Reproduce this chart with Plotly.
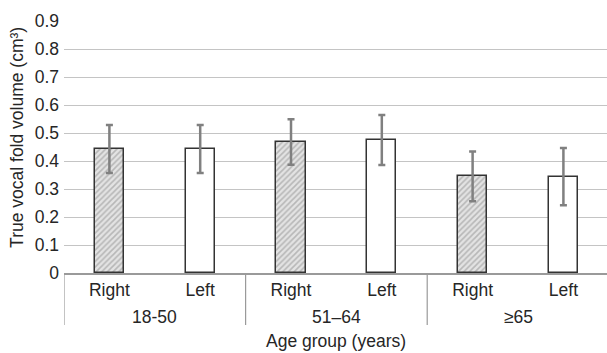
import plotly.graph_objects as go

# Age groups and sides
groups = ["18-50", "51\u201364", "\u226565"]
sides = ["Right", "Left"]

# Mean true vocal fold volume (cm³) and standard deviation, ordered group by group (Right, Left)
right_vals = [0.443, 0.468, 0.345]
left_vals = [0.443, 0.475, 0.344]
right_err = [0.086, 0.081, 0.089]
left_err = [0.086, 0.089, 0.102]

y_ticks = [0, 0.1, 0.2, 0.3, 0.4, 0.5, 0.6, 0.7, 0.8, 0.9]

text_color = "#262626"
font_family = "Liberation Sans, Arial, sans-serif"
fs = 17.5

x_right = [2 * i for i in range(len(groups))]
x_left = [2 * i + 1 for i in range(len(groups))]

fig = go.Figure()
fig.add_trace(go.Bar(
    x=x_right, y=right_vals, width=0.32,
    marker=dict(
        color="#e2e2e2",
        line=dict(color="#333333", width=1.5),
        pattern=dict(shape="/", fgcolor="#8c8c8c", bgcolor="#e3e3e3", size=4, solidity=0.4),
    ),
    error_y=dict(type="data", array=right_err, color="#808080", thickness=2.5, width=3.5),
    showlegend=False,
))
fig.add_trace(go.Bar(
    x=x_left, y=left_vals, width=0.32,
    marker=dict(color="white", line=dict(color="#333333", width=1.5)),
    error_y=dict(type="data", array=left_err, color="#808080", thickness=2.5, width=3.5),
    showlegend=False,
))

tick_vals = sorted(x_right + x_left)
tick_text = [sides[v % 2] for v in tick_vals]

fig.update_layout(
    width=607, height=353,
    margin=dict(l=64, r=0, t=21, b=80),
    paper_bgcolor="white", plot_bgcolor="white",
    font=dict(family=font_family, size=fs, color=text_color),
    bargap=0,
    xaxis=dict(
        range=[-0.5, 5.48], tickmode="array", tickvals=tick_vals, ticktext=tick_text,
        showgrid=False, zeroline=False, showline=True, linecolor="#9a9a9a", linewidth=1.5,
        ticks="", tickfont=dict(size=fs, color=text_color),
    ),
    yaxis=dict(
        range=[0, 0.9], tickmode="array", tickvals=y_ticks,
        ticktext=["0" if v == 0 else f"{v:.1f}" for v in y_ticks],
        showgrid=True, gridcolor="#c4c4c4", gridwidth=1.2,
        zeroline=False, showline=False, ticks="", ticklabelstandoff=4,
        tickfont=dict(size=fs, color=text_color),
    ),
)

# Group dividers beneath the category axis
for b in [-0.5, 1.5, 3.5, 5.5]:
    fig.add_shape(type="line", xref="x", yref="paper", x0=b, x1=b, y0=0, y1=-0.206,
                  line=dict(color="#9a9a9a", width=1.2))

# Group labels
for i, g in enumerate(groups):
    fig.add_annotation(x=2 * i + 0.5, y=-0.175, xref="x", yref="paper", text=g,
                       showarrow=False, xanchor="center", yanchor="middle",
                       font=dict(size=fs, color=text_color))

fig.add_annotation(x=2.5, y=-0.27, xref="x", yref="paper", text="Age group (years)",
                   showarrow=False, xanchor="center", yanchor="middle",
                   font=dict(size=fs, color=text_color))

fig.add_annotation(x=-0.0866, y=0.54, xref="paper", yref="paper",
                   text="True vocal fold volume (cm\u00b3)", textangle=-90,
                   showarrow=False, xanchor="center", yanchor="middle",
                   font=dict(size=fs, color=text_color))

fig.write_html("out.html")
